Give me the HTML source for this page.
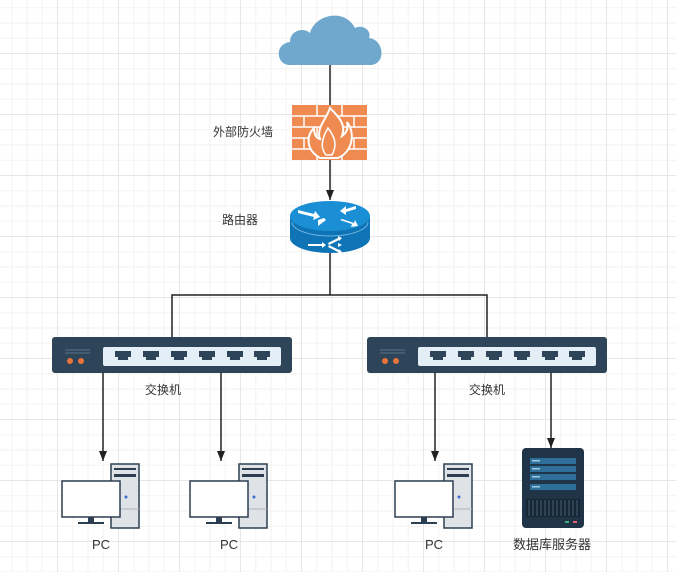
<!DOCTYPE html>
<html><head><meta charset="utf-8"><style>
html,body{margin:0;padding:0;}
body{width:676px;height:567px;overflow:hidden;background-color:#fff;
background-image:
linear-gradient(#e6e6e6 1px,transparent 1px),linear-gradient(90deg,#e6e6e6 1px,transparent 1px),
linear-gradient(#f2f2f2 1px,transparent 1px),linear-gradient(90deg,#f2f2f2 1px,transparent 1px);
background-size:61px 61px,61px 61px,15.25px 15.25px,15.25px 15.25px;
background-position:-8px -8px,-4px -4px,-8px -8px,-4px -4px;
font-family:"Liberation Sans","Noto Sans CJK SC",sans-serif;}
text{font-family:"Liberation Sans","Noto Sans CJK SC",sans-serif;font-size:12px;fill:#333;}
</style></head><body>
<svg width="676" height="567" xmlns="http://www.w3.org/2000/svg">
<defs>
<marker id="a" markerWidth="10" markerHeight="8" refX="10" refY="4" orient="auto" markerUnits="userSpaceOnUse">
<path d="M0,0 L10,4 L0,8Z" fill="#222"/></marker>
<g id="pc">
<rect x="49" y="0" width="28" height="64" fill="#dfe3e8" stroke="#2d3e50" stroke-width="1.5"/>
<rect x="52" y="4" width="22" height="2" fill="#2d3e50"/>
<rect x="52" y="10" width="22" height="3" fill="#2d3e50"/>
<line x1="49" y1="45" x2="77" y2="45" stroke="#b0b6bc"/>
<circle cx="64" cy="33" r="1.5" fill="#3b6fc9"/>
<rect x="0" y="17" width="58" height="36" fill="#fff" stroke="#2d3e50" stroke-width="1.5"/>
<rect x="26" y="53" width="6" height="5" fill="#2d3e50"/>
<rect x="16" y="58" width="26" height="2" fill="#2d3e50"/>
</g>
<g id="sw">
<rect x="0" y="0" width="240" height="36" rx="3" fill="#2e4459"/>
<line x1="13" y1="13" x2="38" y2="13" stroke="#5b7288" stroke-width="1"/>
<line x1="13" y1="16" x2="38" y2="16" stroke="#5b7288" stroke-width="1"/>
<circle cx="18" cy="24" r="3" fill="#e8733b"/><circle cx="29" cy="24" r="3" fill="#e8733b"/>
<rect x="51" y="10" width="178" height="19" rx="2" fill="#e3eef6"/>
<g fill="#2e4459">
<path d="M63,14h16v6h-3v3h-10v-3h-3z"/><path d="M91,14h16v6h-3v3h-10v-3h-3z"/><path d="M119,14h16v6h-3v3h-10v-3h-3z"/>
<path d="M147,14h16v6h-3v3h-10v-3h-3z"/><path d="M175,14h16v6h-3v3h-10v-3h-3z"/><path d="M202,14h16v6h-3v3h-10v-3h-3z"/>
</g>
</g>
</defs>
<line x1="330" y1="62" x2="330" y2="106" stroke="#222" stroke-width="1.5"/>
<line x1="330" y1="160" x2="330" y2="200" stroke="#222" stroke-width="1.5" marker-end="url(#a)"/>
<path d="M330,250V295H172V337M330,295H487V337" fill="none" stroke="#222" stroke-width="1.5"/>
<line x1="103" y1="372" x2="103" y2="461" stroke="#222" stroke-width="1.5" marker-end="url(#a)"/>
<line x1="221" y1="372" x2="221" y2="461" stroke="#222" stroke-width="1.5" marker-end="url(#a)"/>
<line x1="435" y1="372" x2="435" y2="461" stroke="#222" stroke-width="1.5" marker-end="url(#a)"/>
<line x1="551" y1="372" x2="551" y2="448" stroke="#222" stroke-width="1.5" marker-end="url(#a)"/>
<path d="M290,65 C276,65 274,44 290,42 C290,30 304,27 310,33 C315,14 345,8 355,28 C362,24 372,30 369,38 C385,40 386,65 370,65 Z" fill="#6fa8cc"/>
<g>
<rect x="292" y="105" width="75" height="55" fill="#ef8a50"/>
<g stroke="#fff" stroke-width="1.5">
<line x1="292" y1="116" x2="367" y2="116"/><line x1="292" y1="127" x2="367" y2="127"/><line x1="292" y1="138" x2="367" y2="138"/><line x1="292" y1="149" x2="367" y2="149"/>
<line x1="317" y1="105" x2="317" y2="116"/><line x1="342" y1="105" x2="342" y2="116"/>
<line x1="304" y1="116" x2="304" y2="127"/><line x1="354" y1="116" x2="354" y2="127"/>
<line x1="317" y1="127" x2="317" y2="138"/><line x1="342" y1="127" x2="342" y2="138"/>
<line x1="304" y1="138" x2="304" y2="149"/><line x1="354" y1="138" x2="354" y2="149"/>
<line x1="317" y1="149" x2="317" y2="160"/><line x1="342" y1="149" x2="342" y2="160"/>
</g>
<path d="M330,108 C340,118 346,125 342,136 C348,132 348,126 347,122 C356,134 352,152 338,158 L320,158 C306,150 306,136 314,128 C314,134 316,138 320,139 C316,128 326,120 330,108Z" fill="#ef8a50" stroke="#fff" stroke-width="2"/>
<path d="M328,128 C334,136 338,144 332,155 L326,155 C320,148 322,138 328,128Z" fill="#ef8a50" stroke="#fff" stroke-width="1.5"/>
</g>
<g>
<path d="M290,216 V238 A40,15 0 0 0 370,238 V216 Z" fill="#0f74b6"/>
<ellipse cx="330" cy="216" rx="40" ry="15" fill="#1b8fd6"/>
<path d="M292,222 A38,14 0 0 0 368,222" fill="none" stroke="#7fc3ea" stroke-width="0.8"/>
<g fill="#fff">
<path d="M298,210 l16,4 l1,-3 l5,6 l-7,3 l1,-3 l-16,-4z"/>
<path d="M356,206 l-10,3 l0,-3 l-6,5 l6,4 l0,-3 l10,-3z"/>
<path d="M340,220 l12,4 l-1,3 l7,-1 l-3,-6 l-1,3 l-12,-4z"/>
<path d="M318,226 l8,-6 l-2,-2 l-6,2 l0,6z"/>
<path d="M308,244 h14 v-2 l4,3 l-4,3 v-2 h-14z"/>
<path d="M328,243 l10,-5 v-2 l4,2 -3,3 v-1 l-10,5z"/><path d="M328,247 l10,5 v2 l4,-2 -3,-3 v1 l-10,-5z"/><path d="M330,245 h8 v-2 l4,2 -4,2 v-2 h-8z"/>
</g>
</g>
<text x="213" y="136">外部防火墙</text>
<text x="222" y="224">路由器</text>
<use href="#sw" x="52" y="337"/>
<use href="#sw" x="367" y="337"/>
<text x="145" y="394">交换机</text>
<text x="469" y="394">交换机</text>
<use href="#pc" x="62" y="464"/>
<use href="#pc" x="190" y="464"/>
<use href="#pc" x="395" y="464"/>
<g>
<rect x="522" y="448" width="62" height="80" rx="4" fill="#1f3447"/>
<rect x="530" y="458" width="46" height="6" fill="#2e6f99"/><rect x="530" y="466" width="46" height="6" fill="#2e6f99"/>
<rect x="530" y="474" width="46" height="6" fill="#2e6f99"/><rect x="530" y="484" width="46" height="6" fill="#2e6f99"/>
<g fill="#9dc7e2"><rect x="532" y="460" width="8" height="1.5"/><rect x="532" y="468" width="8" height="1.5"/><rect x="532" y="476" width="8" height="1.5"/><rect x="532" y="486" width="8" height="1.5"/></g>
<rect x="526" y="499" width="54" height="18" fill="#172634"/>
<g stroke="#3d5568" stroke-width="1.2">
<path d="M529,500v16M533,500v16M537,500v16M541,500v16M545,500v16M549,500v16M553,500v16M557,500v16M561,500v16M565,500v16M569,500v16M573,500v16M577,500v16"/></g>
<rect x="565" y="521" width="4" height="2" fill="#3bb07a"/><rect x="573" y="521" width="4" height="2" fill="#e8616a"/>
</g>
<text x="92" y="549" style="font-size:13px">PC</text>
<text x="220" y="549" style="font-size:13px">PC</text>
<text x="425" y="549" style="font-size:13px">PC</text>
<text x="513" y="549" style="font-size:13px">数据库服务器</text>
</svg>
</body></html>
